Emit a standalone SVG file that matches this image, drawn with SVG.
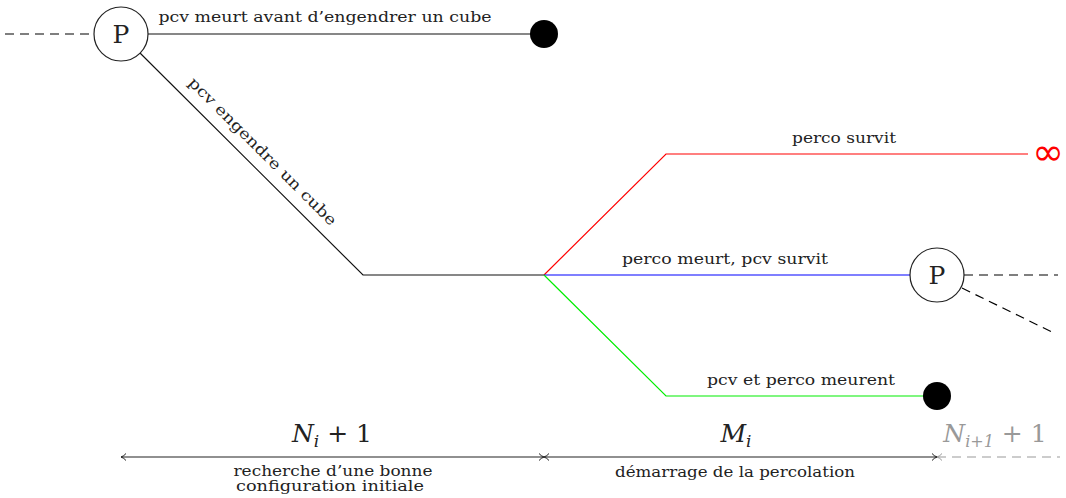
<svg xmlns="http://www.w3.org/2000/svg" width="1066" height="498" viewBox="0 0 1066 498">
<style>
text{font-family:"DejaVu Serif",serif;fill:#222}
.lbl{font-size:15px;text-anchor:middle}
.sm{font-size:14px;text-anchor:middle}
.node circle{fill:#fff;stroke:#222;stroke-width:1.2}
.node text{font-size:25px;text-anchor:middle}
.dot{fill:#000}
.ln{fill:none;stroke-width:1.2}
.dash{stroke:#000;stroke-dasharray:9 6}
.math{font-style:italic;font-size:25px;text-anchor:middle}
</style>
<defs>
<marker id="tipE" markerWidth="10" markerHeight="10" refX="8" refY="5" orient="auto" markerUnits="userSpaceOnUse"><path d="M3,1.5 Q5,4 8,5 Q5,6 3,8.5" fill="none" stroke="#222" stroke-width="1"/></marker>
<marker id="tipS" markerWidth="10" markerHeight="10" refX="2" refY="5" orient="auto" markerUnits="userSpaceOnUse"><path d="M7,1.5 Q5,4 2,5 Q5,6 7,8.5" fill="none" stroke="#222" stroke-width="1"/></marker>
<marker id="tipSg" markerWidth="10" markerHeight="10" refX="2" refY="5" orient="auto" markerUnits="userSpaceOnUse"><path d="M7,1.5 Q5,4 2,5 Q5,6 7,8.5" fill="none" stroke="#999" stroke-width="1"/></marker>
</defs>
<g id="connectors">
<line class="ln dash" x1="5" y1="34" x2="94" y2="34"/>
<line class="ln" stroke="#111" x1="148" y1="34" x2="532" y2="34"/>
<polyline class="ln" stroke="#111" points="140,53 363,275 544,275"/>
<polyline class="ln" stroke="#f00" points="544,275 666,154 1028,154"/>
<line class="ln" stroke="#00f" x1="544" y1="275" x2="910" y2="275"/>
<polyline class="ln" stroke="#0e0" points="544,275 666,396 924,396"/>
<line class="ln dash" x1="964" y1="275" x2="1058" y2="275"/>
<line class="ln dash" x1="962" y1="288" x2="1056" y2="334"/>
<line class="ln" stroke="#222" x1="121" y1="457" x2="544" y2="457" marker-start="url(#tipS)" marker-end="url(#tipE)"/>
<line class="ln" stroke="#222" x1="544" y1="457" x2="937" y2="457" marker-start="url(#tipS)" marker-end="url(#tipE)"/>
<line class="ln" stroke="#999" stroke-dasharray="9 6" x1="937" y1="457" x2="1060" y2="457" marker-start="url(#tipSg)"/>
</g>
<g id="labels">
<text class="lbl" x="325" y="22" textLength="333" lengthAdjust="spacingAndGlyphs">pcv meurt avant d’engendrer un cube</text>
<text class="lbl" transform="translate(259,155) rotate(45)" x="0" y="0" textLength="202" lengthAdjust="spacingAndGlyphs">pcv engendre un cube</text>
<text class="lbl" x="844" y="143" textLength="104" lengthAdjust="spacingAndGlyphs">perco survit</text>
<text class="lbl" x="725" y="264" textLength="206" lengthAdjust="spacingAndGlyphs">perco meurt, pcv survit</text>
<text class="lbl" x="801" y="385" textLength="188" lengthAdjust="spacingAndGlyphs">pcv et perco meurent</text>
<text x="1048" y="165" font-size="38" style="fill:#f00;font-family:'DejaVu Sans',sans-serif" text-anchor="middle">∞</text>
<text class="math" x="332" y="442">N<tspan font-size="17" dy="5">i</tspan><tspan dy="-5" font-style="normal"> + 1</tspan></text>
<text class="math" x="736" y="442">M<tspan font-size="17" dy="5">i</tspan></text>
<text class="math" x="995" y="442" style="fill:#999">N<tspan font-size="16" dy="5">i+1</tspan><tspan dy="-5" font-style="normal"> + 1</tspan></text>
<text class="sm" x="333" y="476" textLength="199" lengthAdjust="spacingAndGlyphs">recherche d’une bonne</text>
<text class="sm" x="330" y="491" textLength="188" lengthAdjust="spacingAndGlyphs">configuration initiale</text>
<text class="lbl" x="735" y="477" textLength="240" lengthAdjust="spacingAndGlyphs">démarrage de la percolation</text>
</g>
<g id="nodeP1" class="node"><circle cx="121" cy="34" r="27"/><text x="121" y="43">P</text></g>
<g id="nodeP2" class="node"><circle cx="937" cy="275" r="27"/><text x="937" y="284">P</text></g>
<g id="end1"><circle class="dot" cx="544" cy="34" r="14"/></g>
<g id="end2"><circle class="dot" cx="937" cy="396" r="14"/></g>
</svg>
